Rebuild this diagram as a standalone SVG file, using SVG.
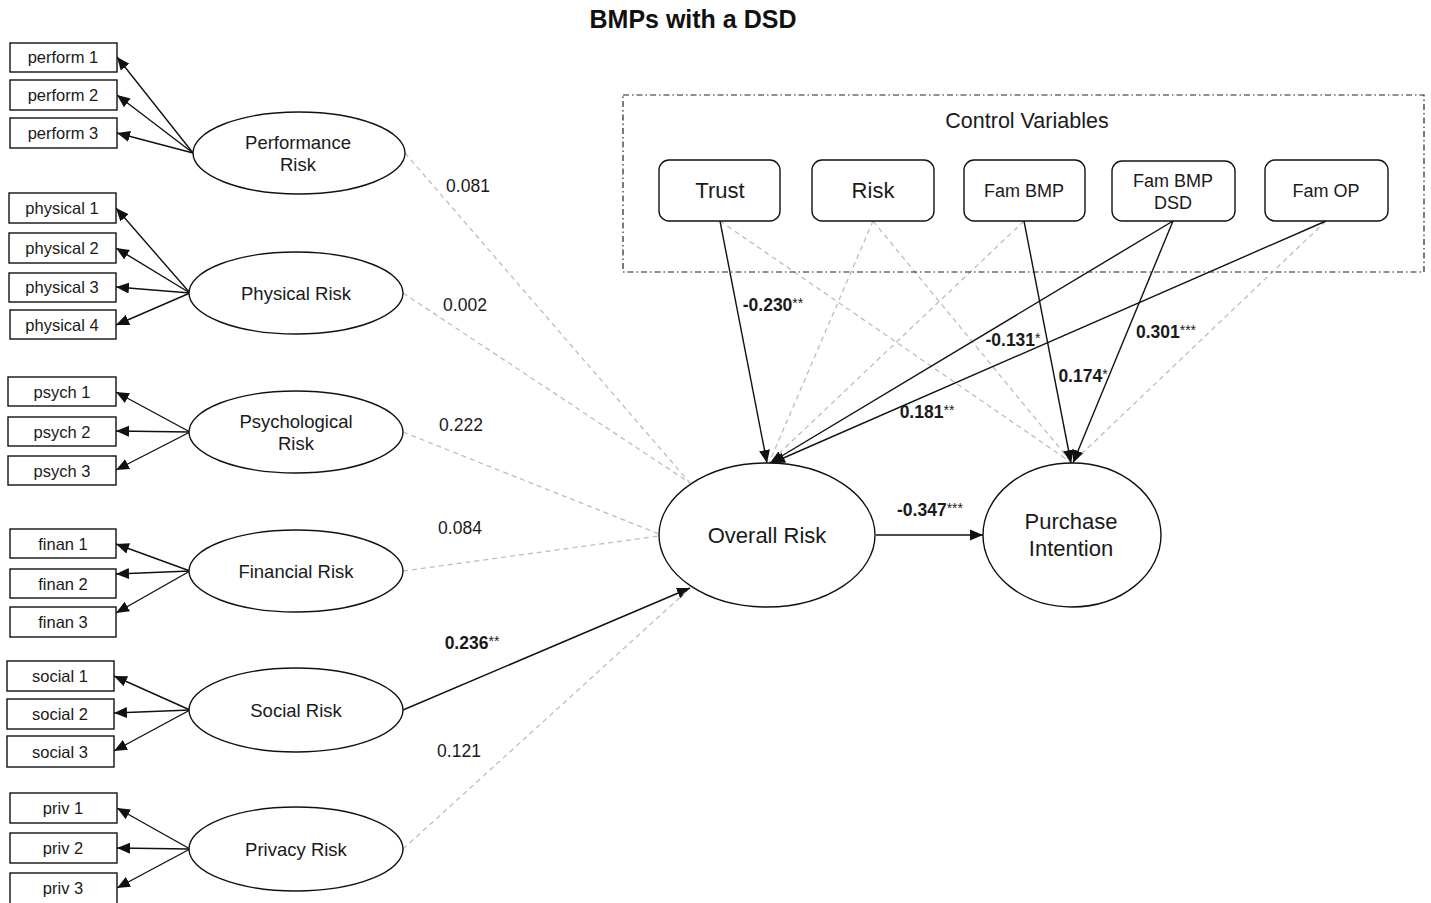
<svg xmlns="http://www.w3.org/2000/svg" width="1431" height="903" viewBox="0 0 1431 903">
<style>
text{font-family:"Liberation Sans",Arial,sans-serif;fill:#1a1a1a;text-anchor:middle}
.ind rect{fill:#fff;stroke:#111;stroke-width:1.4}
.ind text{font-size:16.5px}
.lat ellipse{fill:#fff;stroke:#111;stroke-width:1.4}
.lat text{font-size:18.5px}
.big ellipse{fill:#fff;stroke:#111;stroke-width:1.4}
.big text{font-size:22px}
.ctl rect{fill:#fff;stroke:#111;stroke-width:1.4}
.s{stroke:#111;stroke-width:1.4;fill:none}
.sa{stroke:#111;stroke-width:1.4;fill:none;marker-end:url(#ah)}
.d{stroke:#bdbdbd;stroke-width:1.3;fill:none;stroke-dasharray:5 4}
.lbl{font-size:17.5px}
.b{font-size:17.5px;font-weight:bold}
.b tspan{font-size:14px;font-weight:normal}
</style>
<defs>
<marker id="ah" markerUnits="userSpaceOnUse" markerWidth="14" markerHeight="12" viewBox="0 0 14 12" refX="13" refY="6" orient="auto">
<path d="M0,0.5 L13,6 L0,11.5 Z" fill="#111"/>
</marker>
</defs>
<rect width="1431" height="903" fill="#fff"/>
<text x="693" y="28" style="font-size:25px;font-weight:bold;fill:#111">BMPs with a DSD</text>

<g id="connectors">
<line class="sa" x1="193" y1="153" x2="117" y2="57"/>
<line class="sa" x1="193" y1="153" x2="117" y2="95"/>
<line class="sa" x1="193" y1="153" x2="117" y2="133"/>
<line class="sa" x1="190" y1="293" x2="116" y2="208"/>
<line class="sa" x1="190" y1="293" x2="116" y2="248"/>
<line class="sa" x1="190" y1="293" x2="116" y2="287"/>
<line class="sa" x1="190" y1="293" x2="116" y2="325"/>
<line class="sa" x1="190" y1="432" x2="116" y2="392"/>
<line class="sa" x1="190" y1="432" x2="116" y2="431"/>
<line class="sa" x1="190" y1="432" x2="116" y2="470"/>
<line class="sa" x1="190" y1="571" x2="116" y2="544"/>
<line class="sa" x1="190" y1="571" x2="116" y2="574"/>
<line class="sa" x1="190" y1="571" x2="116" y2="613"/>
<line class="sa" x1="190" y1="710" x2="114" y2="676"/>
<line class="sa" x1="190" y1="710" x2="114" y2="713"/>
<line class="sa" x1="190" y1="710" x2="114" y2="751"/>
<line class="sa" x1="190" y1="849" x2="117" y2="808"/>
<line class="sa" x1="190" y1="849" x2="117" y2="848"/>
<line class="sa" x1="190" y1="849" x2="117" y2="888"/>
<line class="d" x1="405" y1="153" x2="690" y2="483"/>
<line class="d" x1="403" y1="293" x2="690" y2="483"/>
<line class="d" x1="403" y1="432" x2="659" y2="534"/>
<line class="d" x1="403" y1="571" x2="659" y2="536"/>
<line class="sa" x1="403" y1="710" x2="690" y2="588"/>
<line class="d" x1="403" y1="849" x2="686" y2="592"/>
<line class="d" x1="720" y1="221" x2="1072" y2="463"/>
<line class="d" x1="873" y1="221" x2="769" y2="463"/>
<line class="d" x1="873" y1="221" x2="1072" y2="463"/>
<line class="d" x1="1024" y1="221" x2="769" y2="463"/>
<line class="d" x1="1326" y1="221" x2="1072" y2="463"/>
<line class="sa" x1="720" y1="221" x2="767" y2="463"/>
<line class="sa" x1="1173" y1="221" x2="770" y2="463"/>
<line class="sa" x1="1326" y1="221" x2="772" y2="463"/>
<line class="sa" x1="1024" y1="221" x2="1071" y2="463"/>
<line class="sa" x1="1173" y1="221" x2="1073" y2="463"/>
<line class="sa" x1="876" y1="535" x2="983" y2="535"/>
</g>

<g id="labels">
<text class="lbl" x="468" y="192">0.081</text>
<text class="lbl" x="465" y="311">0.002</text>
<text class="lbl" x="461" y="431">0.222</text>
<text class="lbl" x="460" y="534">0.084</text>
<text class="b" x="472" y="649">0.236<tspan dy="-3">**</tspan></text>
<text class="b" x="773" y="311">-0.230<tspan dy="-3">**</tspan></text>
<text class="b" x="1013" y="346">-0.131<tspan dy="-3">*</tspan></text>
<text class="b" x="1083" y="382">0.174<tspan dy="-3">*</tspan></text>
<text class="b" x="1166" y="338">0.301<tspan dy="-3">***</tspan></text>
<text class="b" x="927" y="418">0.181<tspan dy="-3">**</tspan></text>
<text class="b" x="930" y="516">-0.347<tspan dy="-3">***</tspan></text>
<text class="lbl" x="459" y="757">0.121</text>
</g>

<g id="control-variables">
<rect x="623" y="95" width="801" height="177" fill="none" stroke="#222" stroke-width="1.2" stroke-dasharray="6 3 1.5 3"/>
<text x="1027" y="128" style="font-size:21.5px">Control Variables</text>
</g>
<g id="trust" class="ctl"><rect x="659" y="160" width="121" height="61" rx="10"/><text x="720" y="198" style="font-size:22px">Trust</text></g>
<g id="risk" class="ctl"><rect x="812" y="160" width="122" height="61" rx="10"/><text x="873" y="198" style="font-size:22px">Risk</text></g>
<g id="fam-bmp" class="ctl"><rect x="964" y="160" width="121" height="61" rx="10"/><text x="1024" y="197" style="font-size:18px">Fam BMP</text></g>
<g id="fam-bmp-dsd" class="ctl"><rect x="1112" y="161" width="123" height="60" rx="10"/><text x="1173" y="187" style="font-size:18px">Fam BMP</text><text x="1173" y="209" style="font-size:18px">DSD</text></g>
<g id="fam-op" class="ctl"><rect x="1265" y="160" width="123" height="61" rx="10"/><text x="1326" y="197" style="font-size:18px">Fam OP</text></g>

<g id="overall-risk" class="big"><ellipse cx="767" cy="535" rx="108" ry="72"/><text x="767" y="543">Overall Risk</text></g>
<g id="purchase-intention" class="big"><ellipse cx="1072" cy="535" rx="89" ry="72"/><text x="1071" y="529">Purchase</text><text x="1071" y="556">Intention</text></g>

<g id="performance-risk" class="lat"><ellipse cx="299" cy="153" rx="106" ry="41"/><text x="298" y="149">Performance</text><text x="298" y="171">Risk</text></g>
<g id="physical-risk" class="lat"><ellipse cx="296" cy="293" rx="107" ry="41"/><text x="296" y="300">Physical Risk</text></g>
<g id="psychological-risk" class="lat"><ellipse cx="296" cy="432" rx="107" ry="41"/><text x="296" y="428">Psychological</text><text x="296" y="450">Risk</text></g>
<g id="financial-risk" class="lat"><ellipse cx="296" cy="571" rx="107" ry="41"/><text x="296" y="578">Financial Risk</text></g>
<g id="social-risk" class="lat"><ellipse cx="296" cy="710" rx="107" ry="42"/><text x="296" y="717">Social Risk</text></g>
<g id="privacy-risk" class="lat"><ellipse cx="296" cy="849" rx="107" ry="42"/><text x="296" y="856">Privacy Risk</text></g>

<g id="perform-1" class="ind"><rect x="10" y="43" width="107" height="29"/><text x="63" y="63">perform 1</text></g>
<g id="perform-2" class="ind"><rect x="10" y="80" width="107" height="30"/><text x="63" y="101">perform 2</text></g>
<g id="perform-3" class="ind"><rect x="10" y="118" width="107" height="30"/><text x="63" y="139">perform 3</text></g>
<g id="physical-1" class="ind"><rect x="9" y="193" width="107" height="30"/><text x="62" y="214">physical 1</text></g>
<g id="physical-2" class="ind"><rect x="9" y="233" width="107" height="30"/><text x="62" y="254">physical 2</text></g>
<g id="physical-3" class="ind"><rect x="9" y="273" width="107" height="29"/><text x="62" y="293">physical 3</text></g>
<g id="physical-4" class="ind"><rect x="10" y="310" width="106" height="29"/><text x="62" y="331">physical 4</text></g>
<g id="psych-1" class="ind"><rect x="8" y="377" width="108" height="29"/><text x="62" y="398">psych 1</text></g>
<g id="psych-2" class="ind"><rect x="8" y="417" width="108" height="29"/><text x="62" y="438">psych 2</text></g>
<g id="psych-3" class="ind"><rect x="8" y="456" width="108" height="29"/><text x="62" y="477">psych 3</text></g>
<g id="finan-1" class="ind"><rect x="10" y="529" width="106" height="29"/><text x="63" y="550">finan 1</text></g>
<g id="finan-2" class="ind"><rect x="10" y="569" width="106" height="29"/><text x="63" y="590">finan 2</text></g>
<g id="finan-3" class="ind"><rect x="10" y="607" width="106" height="30"/><text x="63" y="628">finan 3</text></g>
<g id="social-1" class="ind"><rect x="7" y="661" width="107" height="30"/><text x="60" y="682">social 1</text></g>
<g id="social-2" class="ind"><rect x="7" y="699" width="107" height="30"/><text x="60" y="720">social 2</text></g>
<g id="social-3" class="ind"><rect x="7" y="736" width="107" height="31"/><text x="60" y="758">social 3</text></g>
<g id="priv-1" class="ind"><rect x="10" y="793" width="107" height="30"/><text x="63" y="814">priv 1</text></g>
<g id="priv-2" class="ind"><rect x="10" y="833" width="107" height="30"/><text x="63" y="854">priv 2</text></g>
<g id="priv-3" class="ind"><rect x="10" y="873" width="107" height="32"/><text x="63" y="894">priv 3</text></g>
</svg>
